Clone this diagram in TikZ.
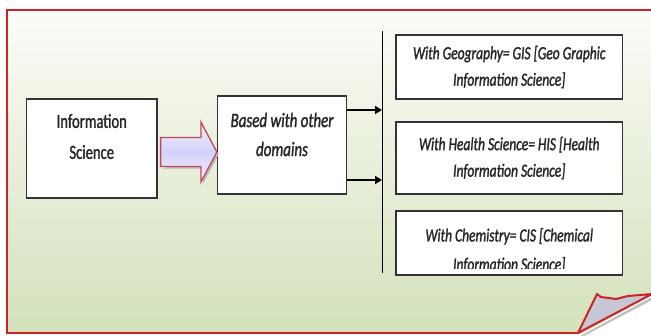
\documentclass[tikz,border=0pt]{standalone}
\usepackage{fontspec}
\setmainfont{Carlito}[FakeStretch=0.73,FakeBold=1.4]
\usetikzlibrary{arrows.meta,calc}
\definecolor{framered}{HTML}{CC2228}
\definecolor{bgtop}{HTML}{FBFCF8}
\definecolor{bgbot}{HTML}{D3E1BB}
\definecolor{arrowred}{HTML}{C0485E}
\definecolor{curlgray}{HTML}{C6C6D6}
\tikzset{
  box/.style={draw=black!80, line width=1.2pt, fill=white, inner sep=0pt},
  rtext/.style={font=\fontsize{18.5}{26.5}\selectfont\itshape, align=center, text=black!85},
  btext/.style={font=\fontsize{20}{31}\selectfont, align=center, text=black!85},
  bitext/.style={font=\fontsize{20.5}{29}\selectfont\itshape, align=center, text=black!85},
  sarrow/.style={line width=2pt, -{Triangle[length=7pt,width=8pt]}},
  fat/.style={draw=arrowred, line width=1.3pt, top color=white!75!pink, bottom color=white!80!pink, middle color=blue!18!white},
  frameline/.style={draw=framered, line width=2.4pt},
}
\begin{document}
\begin{tikzpicture}[x=1pt,y=-1pt]
\useasboundingbox (0,0) rectangle (651,335);
\clip (0,0) rectangle (651,335);
\fill[white] (0,0) rectangle (651,335);
% background panel
\path[top color=bgtop, bottom color=bgbot] (7,10) rectangle (660,333);
% peeled corner area
\fill[white] (578,336) -- (652,295) -- (652,336) -- cycle;
\fill[gray!50] (580,336) -- (652,297) -- (652,300) -- (584,336) -- cycle;
% frame
\draw[frameline] (578,333) -- (7,333) -- (7,10) -- (660,10);
\filldraw[fill=curlgray, draw=framered, line width=2pt, line join=round]
  (597,294) -- (601,297) -- (616,299) -- (628,296) -- (652,294) -- (578,333) -- cycle;

% nodes
\node[box, minimum width=130.5pt, minimum height=99pt,
  label={[btext, yshift=12pt]center:Information\\Science}] (is) at (91.75,148.5) {};
\node[box, minimum width=129pt, minimum height=98pt,
  label={[bitext, yshift=10.5pt]center:Based with other\\domains}] (bw) at (282,145) {};
\node[box, rtext, minimum width=226.5pt, minimum height=64pt] (ga) at (509.25,67)
  {With Geography= GIS [Geo Graphic\\Information Science]};
\node[box, rtext, minimum width=226.5pt, minimum height=72pt] (hb) at (509.25,158)
  {With Health Science= HIS [Health\\Information Science]};
\node[box, minimum width=226.5pt, minimum height=64pt,
  path picture={
    \clip ([yshift=7pt]path picture bounding box.south west) rectangle (path picture bounding box.north east);
    \node[rtext, font=\fontsize{18.5}{29}\selectfont\itshape] at ([yshift=-7.5pt]path picture bounding box.center)
      {With Chemistry= CIS [Chemical\\Information Science]};
  }] (cc) at (509.25,243) {};

% vertical bar
\coordinate (vt) at (382,31);
\coordinate (vb) at (382,273);
\draw[line width=1pt] (vt) -- (vb);

% small arrows
\draw[sarrow] ([yshift=35pt]bw.east) -- ([yshift=35pt]bw.east -| vt);
\draw[sarrow] ([yshift=-35pt]bw.east) -- ([yshift=-35pt]bw.east -| vt);

% fat arrow
\coordinate (fs) at ([xshift=3pt,yshift=-3.5pt]is.east);
\fill[gray!55] let \p1=(fs), \p2=(fs -| bw.west) in
  (\x1+2pt,\y1-14.5pt-2pt) -- (\x2-16pt+2pt,\y1-14.5pt-2pt) -- (\x2-16pt+2pt,\y1-30pt-2pt) -- (\x2+2pt,\y1-2pt) -- (\x2,\y1) -- cycle;
\path[fat] let \p1=(fs), \p2=(fs -| bw.west) in
  (\x1,\y1+14.5pt) -- (\x2-16pt,\y1+14.5pt) -- (\x2-16pt,\y1+30pt) -- (\x2,\y1)
  -- (\x2-16pt,\y1-30pt) -- (\x2-16pt,\y1-14.5pt) -- (\x1,\y1-14.5pt) -- cycle;
\end{tikzpicture}
\end{document}
